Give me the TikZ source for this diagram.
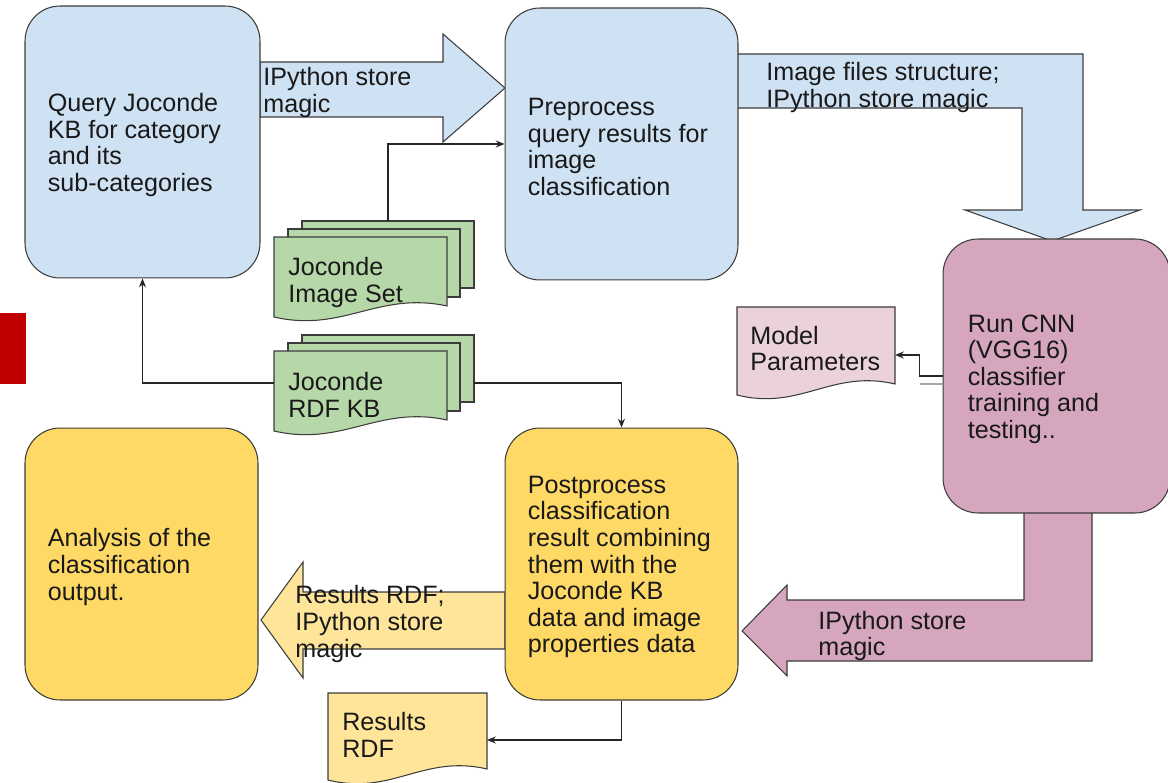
\documentclass[tikz,border=0pt]{standalone}
\usepackage{fontspec}
\setmainfont{Liberation Sans}
\usetikzlibrary{arrows.meta}

\definecolor{blueF}{HTML}{CFE2F3}
\definecolor{pinkF}{HTML}{D5A6BD}
\definecolor{yellowF}{HTML}{FFD966}
\definecolor{paleyellowF}{HTML}{FFE599}
\definecolor{greenF}{HTML}{B6D7A8}
\definecolor{palepinkF}{HTML}{EAD1DC}
\definecolor{redbarF}{HTML}{C00000}
\definecolor{lineC}{HTML}{3C3C3C}

\tikzset{
  box/.style={draw=lineC, line width=0.6pt, rounded corners=0.7cm, minimum width=4.66cm, minimum height=5.44cm},
  txt/.style={anchor=west, align=left, inner sep=0pt, yshift=-0.06cm, text=black!90, font=\fontsize{14.3pt}{15.1pt}\selectfont},
  fat/.style={draw=lineC, line width=0.6pt},
  docline/.style={draw=lineC, line width=0.6pt},
  conn/.style={draw=black!85, line width=0.6pt, -{Stealth[length=5pt,width=4pt]}},
}

% sheet with wavy bottom: fill, left, top, right, bottom
\newcommand{\docsheet}[5]{%
  \draw[docline, fill=#1] (#2,#3) -- (#4,#3) -- (#4,{#5-11})
    .. controls ({#4-0.4*(#4-#2)},{#5-26}) and ({#2+0.4*(#4-#2)},{#5+16}) .. (#2,#5) -- cycle;}

\begin{document}
\begin{tikzpicture}[x=0.02cm, y=-0.02cm]
\useasboundingbox (0,0) rectangle (1168,783);

\fill[redbarF] (0,313) rectangle (26,384);

% fat arrows
\draw[fat, fill=blueF] (260,62) -- (443,62) -- (443,34) -- (505,88) -- (443,142) -- (443,117) -- (260,117) -- cycle;
\draw[fat, fill=blueF] (737,54) -- (1083,54) -- (1083,210) -- (1140,210) -- (1052,241) -- (965,210) -- (1022,210) -- (1022,108) -- (737,108) -- cycle;
\draw[fat, fill=pinkF] (1024,512) -- (1092,512) -- (1092,661) -- (787,661) -- (787,676) -- (742,631) -- (787,585) -- (787,600) -- (1024,600) -- cycle;
\draw[fat, fill=paleyellowF] (505,592) -- (303,592) -- (303,562) -- (261,620) -- (303,678) -- (303,649) -- (505,649) -- cycle;

% boxes
\node[box, fill=blueF, minimum width=4.7cm] (query) at (142.5,142) {};
\node[box, fill=blueF] (preproc) at (621.5,144) {};
\node[box, fill=pinkF, minimum width=4.54cm, minimum height=5.48cm] (cnn) at (1056.5,376) {};
\node[box, fill=yellowF] (analysis) at (141.5,564) {};
\node[box, fill=yellowF] (postproc) at (621.5,564) {};

\node[txt] (querytxt) at ([xshift=0.46cm]query.west) {Query Joconde\\KB for category\\and its\\sub-categories};
\node[txt] (preproctxt) at ([xshift=0.46cm]preproc.west) {Preprocess\\query results for\\image\\classification};
\node[txt] (cnntxt) at ([xshift=0.5cm]cnn.west) {Run CNN\\(VGG16)\\classifier\\training and\\testing..};
\node[txt] (analysistxt) at ([xshift=0.46cm]analysis.west) {Analysis of the\\classification\\output.};
\node[txt] (postproctxt) at ([xshift=0.46cm]postproc.west) {Postprocess\\classification\\result combining\\them with the\\Joconde KB\\data and image\\properties data};

% arrow labels
\node[txt] (storeA) at (263,89.5) {IPython store\\magic};
\node[txt] (storeB) at (766,84.5) {Image files structure;\\IPython store magic};
\node[txt] (storeC) at (818,633) {IPython store\\magic};
\node[txt] (storeD) at (295,621) {Results RDF;\\IPython store\\magic};

% document stacks
\draw[docline, fill=greenF] (302,221) rectangle (474,288);
\draw[docline, fill=greenF] (288,229) rectangle (460,297);
\docsheet{greenF}{274}{237}{447}{317}
\draw[docline, fill=greenF] (302,335) rectangle (474,402);
\draw[docline, fill=greenF] (288,343) rectangle (460,411);
\docsheet{greenF}{274}{351}{447}{431}
\docsheet{palepinkF}{737}{307}{895}{395}
\docsheet{paleyellowF}{328}{693}{487}{780}

\node[txt] (imgset) at (288,279.5) {Joconde\\Image Set};
\node[txt] (rdfkb) at (288,392) {Joconde\\RDF KB};
\node[txt] (modelpar) at (750,345.5) {Model\\Parameters};
\node[txt] (resrdf) at (342,732) {Results\\RDF};

\coordinate (imgsetTop) at (388,221);
\coordinate (rdfkbL) at (274,383);
\coordinate (rdfkbR) at (474,383);
\coordinate (modelparR) at (895,355);
\coordinate (resrdfR) at (487,740);

% connectors
\draw[conn] (imgsetTop) |- (preproc.west);
\draw[conn] (rdfkbL) -| (query.south);
\draw[conn] (rdfkbR) -| (postproc.north);
\draw[conn] (cnn.west) -- ++(-23,0) |- (modelparR);
\draw[black!35, line width=0.6pt] ([yshift=-0.16cm]cnn.west) -- ++(-23,0);
\draw[conn] (postproc.south) |- (resrdfR);
\end{tikzpicture}
\end{document}
